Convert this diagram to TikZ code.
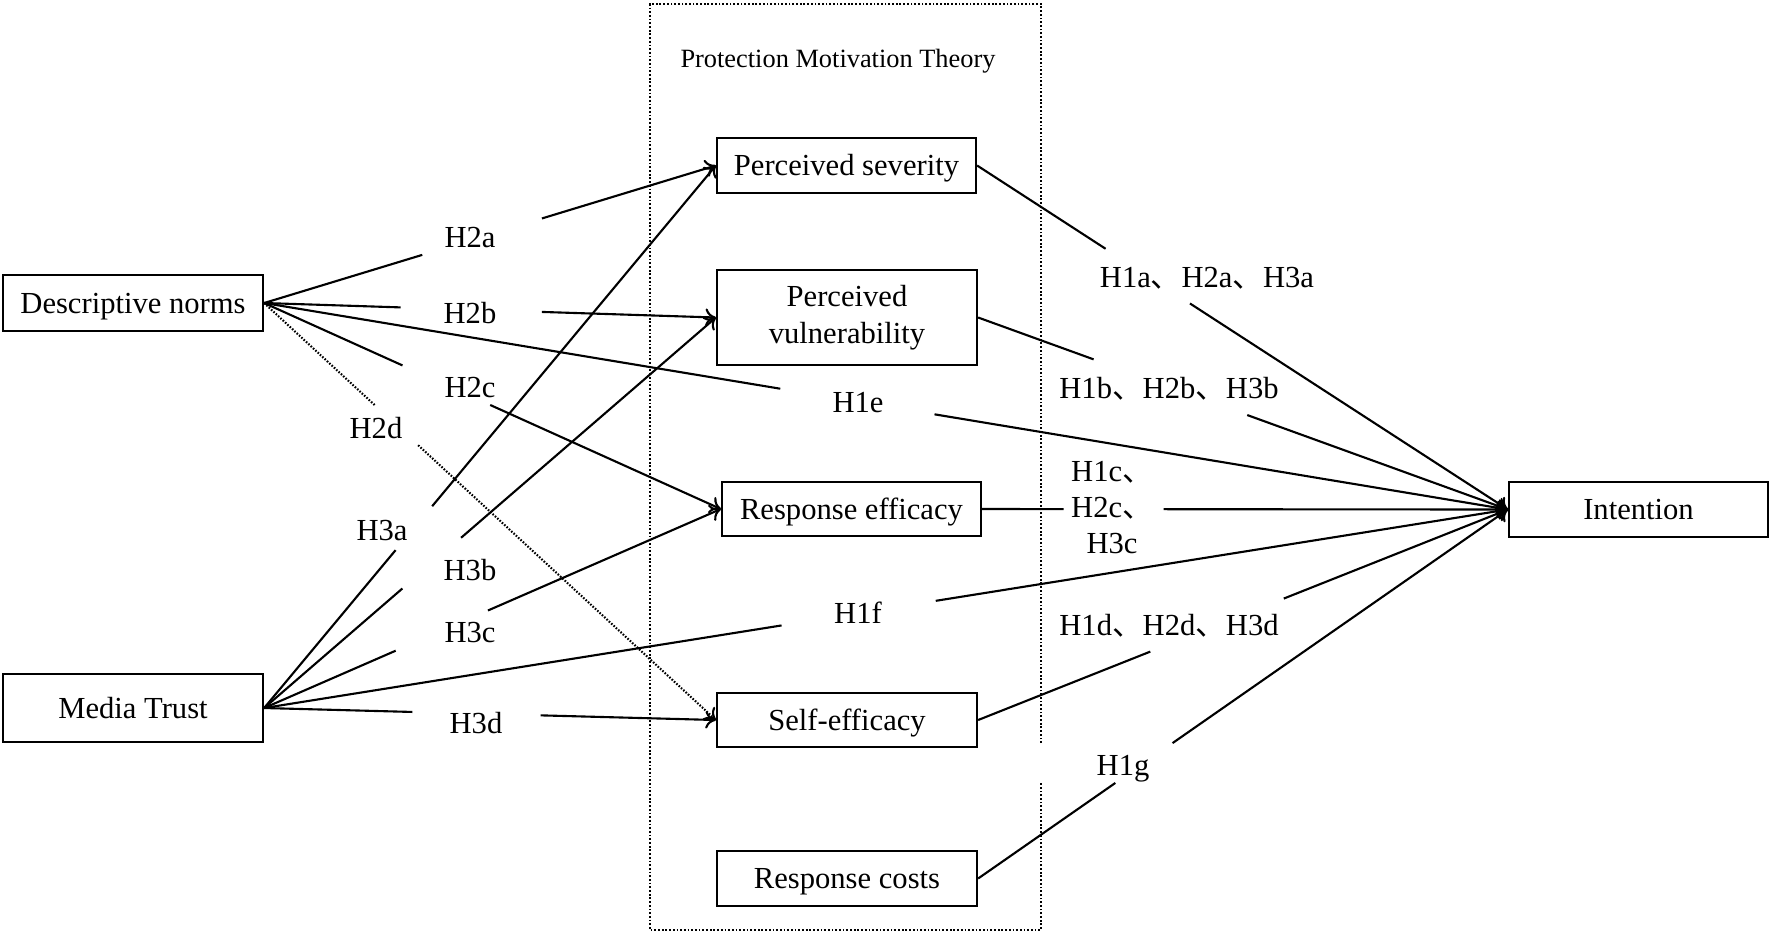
\documentclass[tikz,border=0pt]{standalone}
\usepackage{fontspec}
\setmainfont{Liberation Serif}
\newfontfamily\cjkfont{Noto Sans CJK SC}
\usetikzlibrary{arrows.meta,calc}
\newcommand\dun{{\cjkfont 、}}
\begin{document}
\begin{tikzpicture}[x=0.01cm,y=-0.01cm,
  boxbase/.style={draw,line width=0.6pt,inner sep=0pt,font=\fontsize{8.7pt}{10.5pt}\selectfont},
  box/.style={boxbase,text height=5.76pt,text depth=0pt},
  lbl/.style={inner sep=0pt,anchor=base,font=\fontsize{8.7pt}{10.1pt}\selectfont},
  ttl/.style={inner sep=0pt,anchor=base,font=\fontsize{7.5pt}{9pt}\selectfont},
  ln/.style={line width=0.6pt},
  arr/.style={line width=0.6pt,-{To[length=3pt,width=5pt]}},
  fdots/.style={line width=0.6pt,dash pattern=on 0.45pt off 0.45pt},
  pmt/.style={line width=0.7pt,dash pattern=on 0.5pt off 0.55pt}]
\useasboundingbox (0,0) rectangle (1772,935);

% Protection Motivation Theory frame
\draw[pmt] (1041,743) -- (1041,4) -- (650,4) -- (650,930) -- (1041,930) -- (1041,783);
\node[ttl] (title) at (838,67) {Protection Motivation Theory};

% boxes
\node[box,minimum width=2.60cm,minimum height=0.56cm] (dn) at (133,303) {Descriptive norms};
\node[box,minimum width=2.60cm,minimum height=0.68cm] (mt) at (133,708) {Media Trust};
\node[box,minimum width=2.59cm,minimum height=0.55cm] (int) at (1638.5,509.5) {Intention};
\node[box,minimum width=2.59cm,minimum height=0.55cm] (ps) at (846.5,165.5) {Perceived severity};
\node[boxbase,align=center,minimum width=2.60cm,minimum height=0.95cm] (pv) at (847,317.5) {Perceived\\vulnerability};
\node[box,minimum width=2.59cm,minimum height=0.54cm] (re) at (851.5,509) {Response efficacy};
\node[box,minimum width=2.60cm,minimum height=0.54cm] (se) at (847,720) {Self-efficacy};
\node[box,minimum width=2.60cm,minimum height=0.55cm] (rc) at (847,878.5) {Response costs};

% labels
\node[lbl] (l2a) at (470,247) {H2a};
\node[lbl] (l2b) at (470,323) {H2b};
\node[lbl] (l2c) at (470,397) {H2c};
\node[lbl] (l2d) at (376,438) {H2d};
\node[lbl] (l3a) at (382,540) {H3a};
\node[lbl] (l3b) at (470,580) {H3b};
\node[lbl] (l3c) at (470,642) {H3c};
\node[lbl] (l3d) at (476,733) {H3d};
\node[lbl] (l1e) at (858,412) {H1e};
\node[lbl] (l1f) at (858,623) {H1f};
\node[lbl] (l1g) at (1123,775) {H1g};
\node[lbl] (l1a) at (1207,287) {H1a\dun H2a\dun H3a};
\node[lbl] (l1b) at (1169,398) {H1b\dun H2b\dun H3b};
\node[lbl,align=center] (l1c) at (1112,553) {H1c\dun\\H2c\dun\\H3c};
\node[lbl] (l1d) at (1169,635) {H1d\dun H2d\dun H3d};

% broken connectors (source/target/gap start/gap end)
\foreach \s/\t/\a/\b in {dn/ps/0.350/0.615, dn/pv/0.302/0.615, dn/re/0.303/0.495,
    dn/int/0.415/0.539, mt/ps/0.291/0.372, mt/pv/0.306/0.436, mt/re/0.288/0.490,
    mt/int/0.416/0.540, mt/se/0.328/0.612, ps/int/0.242/0.401, pv/int/0.218/0.508,
    re/int/0.155/0.345, se/int/0.325/0.577, rc/int/0.259/0.367}{
  \coordinate (\s\t a) at ($(\s.east)!\a!(\t.west)$);
  \coordinate (\s\t b) at ($(\s.east)!\b!(\t.west)$);
  \draw[ln] (\s.east) -- (\s\t a);
  \draw[arr] (\s\t b) -- (\t.west);
}

% dotted connector H2d
\coordinate (dnsea) at ($(dn.east)!0.247!(se.west)$);
\coordinate (dnseb) at ($(dn.east)!0.341!(se.west)$);
\draw[fdots] (dn.east) -- (dnsea);
\draw[fdots,-{To[length=3pt,width=5pt]}] (dnseb) -- (se.west);
\end{tikzpicture}
\end{document}
